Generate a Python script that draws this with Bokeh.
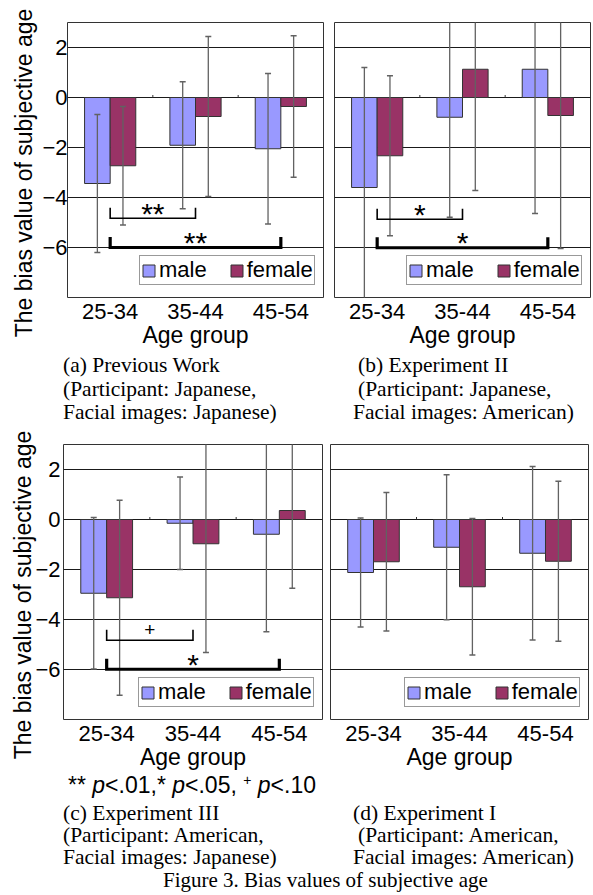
import math
from bokeh.plotting import figure
from bokeh.models import FactorRange, Range1d, FixedTicker, ColumnDataSource, Div
from bokeh.transform import dodge
from bokeh.layouts import row, column
from bokeh.core.properties import value
from bokeh.embed import file_html
from bokeh.resources import INLINE

# ---------------- data ----------------
age_groups = ["25-34", "35-44", "45-54"]
y_tick_values = [-6, -4, -2, 0, 2]
y_min, y_max = -8, 3

# (a) Previous Work
a_male = [-3.44, -1.91, -2.05]
a_male_sd = [2.76, 2.54, 3.01]
a_female = [-2.73, -0.76, -0.36]
a_female_sd = [2.37, 3.20, 2.83]
a_sig_from = ["25-34", "25-34"]
a_sig_to = ["35-44", "45-54"]
a_sig_level = [-4.83, -6.00]
a_sig_mark = ["**", "**"]

# (b) Experiment II
b_male = [-3.60, -0.79, 1.13]
b_male_sd = [4.80, 4.00, 5.77]
b_female = [-2.33, 1.13, -0.72]
b_female_sd = [3.20, 4.85, 5.32]
b_sig_from = ["25-34", "25-34"]
b_sig_to = ["35-44", "45-54"]
b_sig_level = [-4.87, -6.01]
b_sig_mark = ["*", "*"]

# (c) Experiment III
c_male = [-2.95, -0.15, -0.59]
c_male_sd = [3.03, 1.85, 3.90]
c_female = [-3.13, -0.97, 0.36]
c_female_sd = [3.90, 4.35, 3.11]
c_sig_from = ["25-34", "25-34"]
c_sig_to = ["35-44", "45-54"]
c_sig_level = [-4.83, -5.99]
c_sig_mark = ["+", "*"]

# (d) Experiment I
d_male = [-2.12, -1.11, -1.35]
d_male_sd = [2.18, 2.90, 3.47]
d_female = [-1.69, -2.69, -1.67]
d_female_sd = [2.77, 2.73, 3.20]

a_caption = ["(a) Previous Work", "(Participant: Japanese,", "Facial images: Japanese)"]
b_caption = ["(b) Experiment II", "(Participant: Japanese,", "Facial images: American)"]
c_caption = ["(c) Experiment III", "(Participant: American,", "Facial images: Japanese)"]
d_caption = ["(d) Experiment I", "(Participant: American,", "Facial images: American)"]
y_title = "The bias value of subjective age"
x_title = "Age group"
series_names = ["male", "female"]
note_html = "** <i>p</i>&lt;.01,* <i>p</i>&lt;.05, <span style='font-size:14px;position:relative;top:-8px'>+</span> <i>p</i>&lt;.10"
figure_caption = "Figure 3. Bias values of subjective age"

# ---------------- style ----------------
SANS = "Liberation Sans"
SERIF = "Liberation Serif"
MALE_C = "#9999FF"
FEMALE_C = "#993366"
EDGE = "#333333"
GRID = "#1a1a1a"
ERR = "#626262"
FH = 275
BAR_W = 0.3
MARK_SIZE = {"*": "30px", "**": "30px", "+": "19px"}
MARK_SHIFT = {"*": 5.0, "**": 5.0, "+": 11.0}   # px above the bracket line
BRACKET_WIDTHS = [1.6, 3.2]
BRACKET_TICK = 0.42


def panel(male, male_sd, female, female_sd, sig, g):
    fw = g["fw"]
    n = len(age_groups)
    p = figure(x_range=FactorRange(factors=age_groups), y_range=Range1d(y_min, y_max),
               frame_width=fw, frame_height=FH,
               min_border_left=g["bl"], min_border_right=g["br"],
               min_border_top=g["bt"], min_border_bottom=g["bb"],
               y_axis_location="left" if g["yaxis"] else None,
               output_backend="svg", toolbar_location=None,
               background_fill_color="white", border_fill_color="white")
    upp = FH / (y_max - y_min)  # px per unit

    p.outline_line_color = EDGE
    p.outline_line_width = 1
    p.xgrid.visible = False
    p.ygrid.ticker = FixedTicker(ticks=y_tick_values)
    p.ygrid.grid_line_color = GRID
    p.ygrid.grid_line_width = 1

    xa = p.xaxis[0]
    xa.axis_line_color = None
    xa.major_tick_line_color = None
    xa.minor_tick_line_color = None
    xa.major_label_text_font = SANS
    xa.major_label_text_font_size = "22px"
    xa.major_label_text_color = "black"
    xa.major_label_standoff = 0
    xa.axis_label = x_title
    xa.axis_label_text_font = SANS
    xa.axis_label_text_font_size = "23px"
    xa.axis_label_text_font_style = "normal"
    xa.axis_label_text_color = "black"
    xa.axis_label_standoff = 0

    if g["yaxis"]:
        ya = p.yaxis[0]
        ya.ticker = FixedTicker(ticks=y_tick_values)
        ya.axis_line_color = None
        ya.major_tick_line_color = None
        ya.minor_tick_line_color = None
        ya.major_tick_out = 0
        ya.major_tick_in = 0
        ya.minor_tick_out = 0
        ya.minor_tick_in = 0
        ya.major_label_text_font = SANS
        ya.major_label_text_font_size = "22px"
        ya.major_label_text_color = "black"
        ya.major_label_standoff = g["ystand"]

    src = ColumnDataSource(dict(
        age=age_groups, male=male, female=female,
        m_lo=[m - s for m, s in zip(male, male_sd)], m_hi=[m + s for m, s in zip(male, male_sd)],
        f_lo=[m - s for m, s in zip(female, female_sd)], f_hi=[m + s for m, s in zip(female, female_sd)],
    ))
    offs = [-BAR_W / 2, BAR_W / 2]
    cols = ["male", "female"]
    colors = [MALE_C, FEMALE_C]
    for off, col, colr, name in zip(offs, cols, colors, series_names):
        p.vbar(x=dodge("age", off, range=p.x_range), top=col, bottom=0, width=BAR_W, source=src,
               fill_color=colr, line_color=EDGE, line_width=1, legend_label=name)
    for off, lo, hi in zip(offs, ["m_lo", "f_lo"], ["m_hi", "f_hi"]):
        xx = dodge("age", off, range=p.x_range)
        p.segment(x0=xx, x1=xx, y0=lo, y1=hi, source=src, line_color=ERR, line_width=1.3)
        p.scatter(x=xx, y=lo, source=src, marker="dash", size=6, line_color=ERR, line_width=1.3)
        p.scatter(x=xx, y=hi, source=src, marker="dash", size=6, line_color=ERR, line_width=1.3)

    # small category-boundary ticks on the zero line
    bnd = list(range(1, n))
    p.segment(x0=bnd, x1=bnd, y0=[0] * len(bnd), y1=[2.5 / upp] * len(bnd), line_color=EDGE, line_width=1)

    # significance brackets
    for k, (g0, g1, lev, mark) in enumerate(sig):
        i0 = age_groups.index(g0) + 0.5
        i1 = age_groups.index(g1) + 0.5
        p.line(x=[i0, i0, i1, i1], y=[lev + BRACKET_TICK, lev, lev, lev + BRACKET_TICK],
               line_color="black", line_width=BRACKET_WIDTHS[k], line_join="miter")
        p.text(x=[(i0 + i1) / 2], y=[lev + MARK_SHIFT[mark] / upp], text=[mark],
               text_font=value(SANS), text_font_size=value(MARK_SIZE[mark]),
               text_align="center", text_baseline="middle", text_color="black")

    leg = p.legend[0]
    leg.orientation = "horizontal"
    leg.location = (fw - 3 - 181, 12)
    leg.margin = 0
    leg.padding = 1
    leg.spacing = 22
    leg.label_standoff = 3
    leg.glyph_width = 15
    leg.glyph_height = 15
    leg.label_height = 15
    leg.label_text_font = SANS
    leg.label_text_font_size = "22px"
    leg.label_text_line_height = 0.95
    leg.label_text_color = "black"
    leg.border_line_color = EDGE
    leg.border_line_width = 1
    leg.background_fill_color = "white"
    leg.background_fill_alpha = 1
    return p


def span(txt, left, top, family, size, lh):
    return (f"<div style=\"position:absolute;left:{left}px;top:{top:.1f}px;font-family:'{family}';"
            f"font-size:{size}px;line-height:{lh}px;white-space:nowrap;color:black;\">{txt}</div>")


def ytitle(cx, cy):
    L, lh = 340, 26
    return (f"<div style=\"position:absolute;left:{cx - L / 2:.1f}px;top:{cy - lh / 2:.1f}px;width:{L}px;"
            f"height:{lh}px;line-height:{lh}px;text-align:center;transform:rotate(-90deg);"
            f"transform-origin:50% 50%;font-family:'{SANS}';font-size:23px;white-space:nowrap;color:black;\">"
            f"{y_title}</div>")


def text_div(items, width, height):
    inner = "".join(items)
    html = f"<div style=\"position:relative;width:{width}px;height:{height}px;\">{inner}</div>"
    return Div(text=html, width=width, height=height, margin=0, styles={"overflow": "visible"})


GA = dict(bl=67, fw=256, br=5, bt=22, bb=57, yaxis=True, ystand=0)
GB = dict(bl=6, fw=256, br=3, bt=22, bb=57, yaxis=False)
GC = dict(bl=63, fw=259, br=4, bt=20, bb=57, yaxis=True, ystand=3)
GD = dict(bl=4, fw=258, br=5, bt=20, bb=57, yaxis=False)

pa = panel(a_male, a_male_sd, a_female, a_female_sd,
           list(zip(a_sig_from, a_sig_to, a_sig_level, a_sig_mark)), GA)
pb = panel(b_male, b_male_sd, b_female, b_female_sd,
           list(zip(b_sig_from, b_sig_to, b_sig_level, b_sig_mark)), GB)
pc = panel(c_male, c_male_sd, c_female, c_female_sd,
           list(zip(c_sig_from, c_sig_to, c_sig_level, c_sig_mark)), GC)
pd_ = panel(d_male, d_male_sd, d_female, d_female_sd, [], GD)

# caption block under the top row (starts at page y = 354); also carries the
# rotated y title of the top row, positioned upward over the figure's left border
CAP = 21.5
cap_lh = 21
asc = 17.6  # baseline offset inside a 21px-high serif line box
top1 = 354
base1 = [372.7, 396.2, 419.5]
items1 = [ytitle(23.5, 172.5 - top1)]
for txt, x, b in zip(a_caption, [63, 63, 63], base1):
    items1.append(span(txt, x, b - top1 - asc, SERIF, CAP, cap_lh))
for txt, x, b in zip(b_caption, [358, 358, 353], base1):
    items1.append(span(txt, x, b - top1 - asc, SERIF, CAP, cap_lh))
div1 = text_div(items1, 593, 70)

# block under the bottom row (starts at page y = 776)
top2 = 776
items2 = [ytitle(22.5, 595 - top2), span(note_html, 68, 793 - top2 - 16.95, SANS, 23, 18)]
base2 = [821, 843, 865]
for txt, x, b in zip(c_caption, [63, 63, 63], base2):
    items2.append(span(txt, x, b - top2 - asc, SERIF, CAP, cap_lh))
for txt, x, b in zip(d_caption, [353, 358, 353], base2):
    items2.append(span(txt, x, b - top2 - asc, SERIF, CAP, cap_lh))
items2.append(span(figure_caption, 163, 888 - top2 - asc, SERIF, 21, cap_lh))
div2 = text_div(items2, 593, 117)

layout = column(row(pa, pb), div1, row(pc, pd_), div2)
open("out.html", "w").write(file_html(layout, INLINE))
